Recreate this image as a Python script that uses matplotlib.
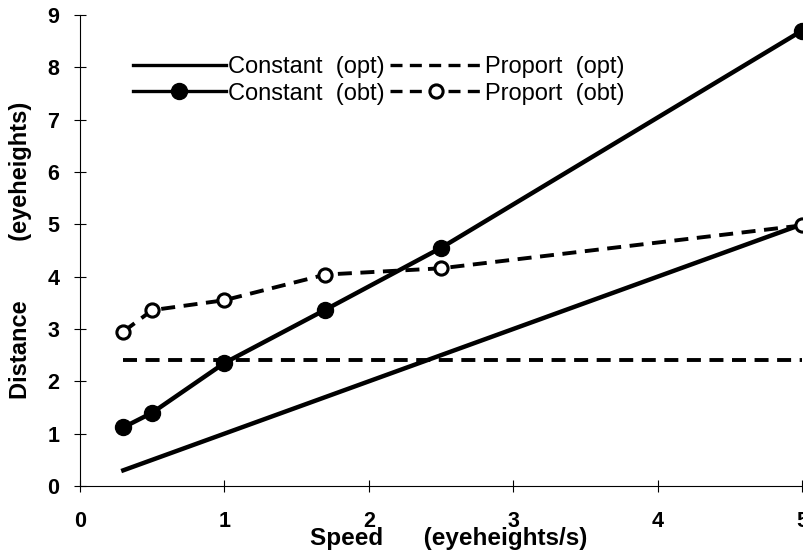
import matplotlib
matplotlib.use("Agg")
import matplotlib.pyplot as plt

plt.rcParams.update({
    "font.family": ["Liberation Sans", "DejaVu Sans"],
    "axes.linewidth": 0.8,
})

# ── Data ──────────────────────────────────────────────────────
speed        = [0.3, 0.5, 1.0, 1.7, 2.5, 5.0]
const_opt    = [0.3, 0.5, 1.0, 1.7, 2.5, 5.0]
const_obt    = [1.12, 1.40, 2.35, 3.37, 4.55, 8.70]
prop_opt     = [2.40, 2.40, 2.40, 2.40, 2.40, 2.40]
prop_obt     = [2.95, 3.36, 3.55, 4.04, 4.16, 4.98]

fig = plt.figure(figsize=(8.04, 5.54), dpi=100)
ax = fig.add_axes([80 / 804, 1 - 486 / 554, 722 / 804, 471 / 554])

DASH = (3.6, 2.2)
ax.plot(speed, const_opt, color="black", lw=3.2, label="Constant  (opt)",
        clip_on=False)
ax.plot(speed, const_obt, color="black", lw=3.2, marker="o", ms=11.5,
        label="Constant  (obt)", clip_on=False)
ax.plot(speed, prop_opt, color="black", lw=2.8, ls=(0, DASH),
        label="Proport  (opt)", clip_on=False)
ax.plot(speed, prop_obt, color="black", lw=2.8, ls=(0, DASH), marker="o",
        ms=9.5, mfc="white", mew=2.2, label="Proport  (obt)", clip_on=False)

ax.set_xlim(0, 5)
ax.set_ylim(0, 9)
ax.set_xticks(range(0, 6))
ax.set_yticks(range(0, 10))
ax.spines["top"].set_visible(False)
ax.spines["right"].set_visible(False)
ax.tick_params(direction="inout", length=8, width=0.8, labelsize=15.5)
ax.tick_params(axis="x", pad=14)
ax.tick_params(axis="y", pad=11)
for lab in ax.get_xticklabels() + ax.get_yticklabels():
    lab.set_fontweight("bold")

ax.set_xlabel("Speed      (eyeheights/s)", fontsize=17.5, fontweight="bold")
ax.xaxis.set_label_coords(0.51, -0.088)
ax.set_ylabel("Distance         (eyeheights)", fontsize=17, fontweight="bold")
ax.yaxis.set_label_coords(-0.066, 0.5)

leg = ax.legend(ncol=2, loc="upper left", bbox_to_anchor=(0.073, 0.912),
                frameon=False, fontsize=17, handlelength=3.95,
                handletextpad=0.1, columnspacing=0.2, labelspacing=0.18,
                borderaxespad=0, borderpad=0)
for h in leg.get_lines():
    h.set_linewidth(2.4)

fig.savefig("out.png", dpi=100)
